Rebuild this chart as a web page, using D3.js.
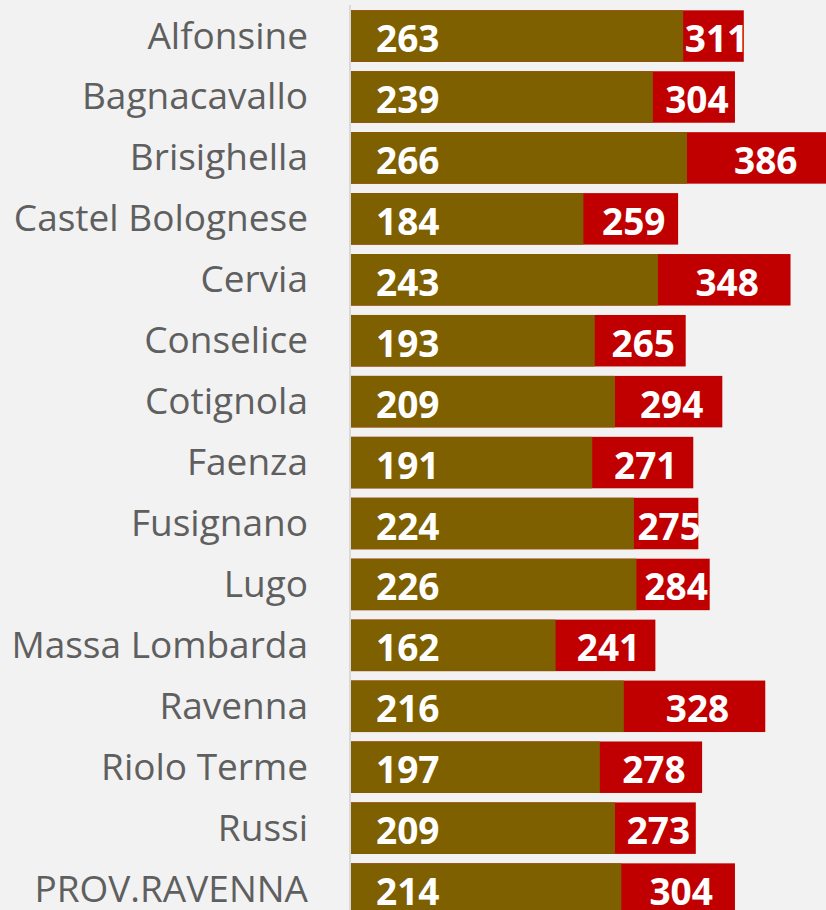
<!DOCTYPE html>
<html>
<head>
<meta charset="utf-8">
<script src="https://cdn.jsdelivr.net/npm/d3@7"></script>
<style>
  html, body { margin: 0; padding: 0; background: #f2f2f2; overflow: hidden; }
  svg { display: block; }
</style>
</head>
<body>
<svg id="chart" width="826" height="910"></svg>
<script>
const comuni = ["Alfonsine", "Bagnacavallo", "Brisighella", "Castel Bolognese", "Cervia",
  "Conselice", "Cotignola", "Faenza", "Fusignano", "Lugo", "Massa Lombarda",
  "Ravenna", "Riolo Terme", "Russi", "PROV.RAVENNA"];
const valoriBase = [263, 239, 266, 184, 243, 193, 209, 191, 224, 226, 162, 216, 197, 209, 214];
const valoriTotale = [311, 304, 386, 259, 348, 265, 294, 271, 275, 284, 241, 328, 278, 273, 304];

const svg = d3.select("#chart");
const rows = comuni.map((c, i) => ({ name: c, base: valoriBase[i], tot: valoriTotale[i] }));

const x = d3.scaleLinear().domain([0, 400]).range([351, 351 + 400 * 1.263]);
const y = d3.scaleBand()
  .domain(comuni)
  .range([5.6, 5.6 + 15 * 60.93])
  .paddingInner(0.155)
  .paddingOuter(0.0775);

// axis line
svg.append("line")
  .attr("x1", 350).attr("x2", 350)
  .attr("y1", 5).attr("y2", 910)
  .attr("stroke", "#d9d9d9")
  .attr("stroke-width", 2);

// red (total) bars behind
svg.selectAll("rect.tot")
  .data(rows)
  .join("rect")
  .attr("class", "tot")
  .attr("x", x(0))
  .attr("y", d => y(d.name))
  .attr("width", d => x(d.tot) - x(0))
  .attr("height", y.bandwidth())
  .attr("fill", "#c00000");

// brown bars on top
svg.selectAll("rect.base")
  .data(rows)
  .join("rect")
  .attr("class", "base")
  .attr("x", x(0))
  .attr("y", d => y(d.name))
  .attr("width", d => x(d.base) - x(0))
  .attr("height", y.bandwidth())
  .attr("fill", "#7f6000");

// category labels
svg.selectAll("text.cat")
  .data(rows)
  .join("text")
  .attr("class", "cat")
  .attr("x", 308)
  .attr("y", d => y(d.name) + y.bandwidth() / 2 + 12.5)
  .attr("text-anchor", "end")
  .attr("font-family", "'Open Sans', sans-serif")
  .attr("font-size", "37px")
  .attr("fill", "#5f5f5f")
  .text(d => d.name);

// base labels
svg.selectAll("text.lb")
  .data(rows)
  .join("text")
  .attr("class", "lb")
  .attr("x", x(0) + 25)
  .attr("y", d => y(d.name) + y.bandwidth() / 2 + 16)
  .attr("font-family", "'Open Sans', sans-serif")
  .attr("font-weight", "bold")
  .attr("font-size", "37px")
  .attr("fill", "#ffffff")
  .text(d => d.base);

// total labels centered in red segment
svg.selectAll("text.lt")
  .data(rows)
  .join("text")
  .attr("class", "lt")
  .attr("x", d => (x(d.base) + x(d.tot)) / 2 + 3)
  .attr("y", d => y(d.name) + y.bandwidth() / 2 + 16)
  .attr("text-anchor", "middle")
  .attr("font-family", "'Open Sans', sans-serif")
  .attr("font-weight", "bold")
  .attr("font-size", "37px")
  .attr("fill", "#ffffff")
  .text(d => d.tot);
</script>
</body>
</html>
